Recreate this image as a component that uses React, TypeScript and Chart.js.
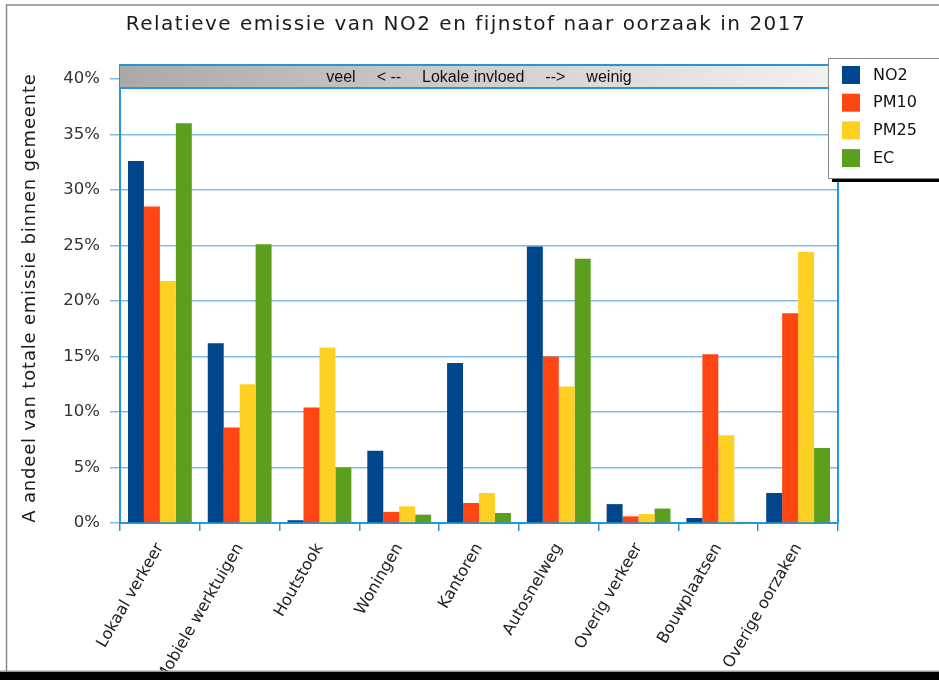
import { useEffect, useRef } from "react";
import { Chart, registerables } from "chart.js";

Chart.register(...registerables);

const chartTitle = "Relatieve emissie van NO2 en fijnstof naar oorzaak in 2017";
const yAxisTitle = "A andeel van totale emissie binnen gemeente";
const bannerParts = ["veel", "< --", "Lokale invloed", "-->", "weinig"];

const categories = [
  "Lokaal verkeer",
  "Mobiele werktuigen",
  "Houtstook",
  "Woningen",
  "Kantoren",
  "Autosnelweg",
  "Overig verkeer",
  "Bouwplaatsen",
  "Overige oorzaken",
];

const seriesNames = ["NO2", "PM10", "PM25", "EC"];
const no2Values = [32.6, 16.2, 0.25, 6.5, 14.4, 24.9, 1.7, 0.45, 2.7];
const pm10Values = [28.5, 8.6, 10.4, 1.0, 1.8, 15.0, 0.6, 15.2, 18.9];
const pm25Values = [21.8, 12.5, 15.8, 1.5, 2.7, 12.3, 0.8, 7.9, 24.4];
const ecValues = [36.0, 25.1, 5.0, 0.75, 0.9, 23.8, 1.3, 0.1, 6.75];
const seriesColors = ["#00468c", "#ff4512", "#ffd024", "#5c9e1e"];

const yTickValues = [0, 5, 10, 15, 20, 25, 30, 35, 40];
const yMax = 41.25;

const FONT = "'DejaVu Sans', Verdana, sans-serif";
const GRID = "#7cbde8";
const AXIS = "#2596d8";

export default function App() {
  const canvasRef = useRef<HTMLCanvasElement | null>(null);

  useEffect(() => {
    const canvas = canvasRef.current;
    if (!canvas) return;

    const decorPlugin = {
      id: "decor",
      beforeDraw(chart: any) {
        const ctx = chart.ctx;
        ctx.save();
        ctx.fillStyle = "#ffffff";
        ctx.fillRect(0, 0, chart.width, chart.height);
        ctx.restore();
      },
      afterDraw(chart: any) {
        const ctx = chart.ctx as any;
        const a = chart.chartArea;
        ctx.save();

        // plot frame (top & right)
        ctx.strokeStyle = AXIS;
        ctx.lineWidth = 2;
        ctx.beginPath();
        ctx.moveTo(a.left, a.top);
        ctx.lineTo(a.right, a.top);
        ctx.lineTo(a.right, a.bottom);
        ctx.stroke();

        // banner
        const bTop = a.top + 1;
        const bBottom = chart.scales.y.getPixelForValue(yMax) + 23;
        const grad = ctx.createLinearGradient(a.left, 0, a.right, 0);
        grad.addColorStop(0, "#a9a9a9");
        grad.addColorStop(0.5, "#cfcfcf");
        grad.addColorStop(1, "#f2f2f2");
        ctx.fillStyle = grad;
        ctx.fillRect(a.left, bTop, a.right - a.left, bBottom - bTop);
        ctx.strokeStyle = AXIS;
        ctx.lineWidth = 2;
        ctx.beginPath();
        ctx.moveTo(a.left, bBottom);
        ctx.lineTo(a.right, bBottom);
        ctx.stroke();

        ctx.font = "16px 'Liberation Sans', Arial, sans-serif";
        ctx.fillStyle = "#111";
        ctx.textBaseline = "middle";
        ctx.textAlign = "left";
        const gap = 21;
        const widths = bannerParts.map((p: string) => ctx.measureText(p).width);
        const total = widths.reduce((s: number, w: number) => s + w, 0) + gap * (bannerParts.length - 1);
        let x = (a.left + a.right) / 2 - total / 2;
        const by = (bTop + bBottom) / 2 + 1;
        bannerParts.forEach((p, i) => {
          ctx.fillText(p, x, by);
          x += widths[i] + gap;
        });

        // title
        ctx.font = "20px " + FONT;
        ctx.fillStyle = "#1a1a1a";
        ctx.textAlign = "center";
        ctx.letterSpacing = "1.5px";
        ctx.fillText(chartTitle, 466, 25);

        // y-axis title
        ctx.save();
        ctx.translate(30, 298);
        ctx.rotate(-Math.PI / 2);
        ctx.font = "18px " + FONT;
        ctx.letterSpacing = "0.8px";
        ctx.fillStyle = "#1a1a1a";
        ctx.textAlign = "center";
        ctx.textBaseline = "middle";
        ctx.fillText(yAxisTitle, 0, 0);
        ctx.restore();
        ctx.letterSpacing = "0px";

        // legend
        const lx = 828;
        const ly = 58;
        const lw = 140;
        const lh = 120;
        ctx.fillStyle = "#000";
        ctx.fillRect(lx + 4, ly + 4, lw, lh);
        ctx.fillStyle = "#fff";
        ctx.fillRect(lx, ly, lw, lh);
        ctx.strokeStyle = "#888";
        ctx.lineWidth = 1;
        ctx.strokeRect(lx + 0.5, ly + 0.5, lw, lh);
        ctx.font = "16px " + FONT;
        ctx.textAlign = "left";
        ctx.textBaseline = "middle";
        seriesNames.forEach((n, i) => {
          const sy = 66 + i * 27.7;
          ctx.fillStyle = seriesColors[i];
          ctx.fillRect(842, sy, 18, 18);
          ctx.fillStyle = "#111";
          ctx.fillText(n, 873, sy + 9.5);
        });

        // outer frame
        ctx.strokeStyle = "#8a8a8a";
        ctx.lineWidth = 1.5;
        ctx.beginPath();
        ctx.moveTo(6.5, 671);
        ctx.lineTo(6.5, 5);
        ctx.lineTo(chart.width, 5);
        ctx.stroke();
        ctx.fillStyle = "#000";
        ctx.fillRect(0, 672, chart.width, 8);
        ctx.fillStyle = "#999";
        ctx.fillRect(0, 670.5, chart.width, 1.5);

        ctx.restore();
      },
    };

    const valuesList = [no2Values, pm10Values, pm25Values, ecValues];

    const chart = new Chart(canvas, {
      type: "bar",
      data: {
        labels: categories,
        datasets: seriesNames.map((name, i) => ({
          label: name,
          data: valuesList[i],
          backgroundColor: seriesColors[i],
          borderWidth: 0,
          barPercentage: 1.0,
          categoryPercentage: 0.8,
        })),
      },
      options: {
        responsive: false,
        animation: false,
        layout: { padding: { left: 0, right: 101, top: 65, bottom: 0 } },
        plugins: {
          legend: { display: false },
          title: { display: false },
          tooltip: { enabled: false },
        },
        scales: {
          x: {
            afterFit: (s: any) => {
              s.height = 157;
            },
            grid: {
              display: true,
              drawOnChartArea: false,
              drawTicks: true,
              tickLength: 8,
              color: AXIS,
              lineWidth: 1.5,
              offset: true,
            },
            border: { display: true, color: AXIS, width: 2 },
            ticks: {
              autoSkip: false,
              maxRotation: 60,
              minRotation: 60,
              padding: 9,
              color: "#222",
              font: { family: FONT, size: 16 },
            },
          },
          y: {
            min: 0,
            max: yMax,
            afterFit: (s: any) => {
              s.width = 120;
            },
            afterBuildTicks: (s: any) => {
              s.ticks = yTickValues.map((v) => ({ value: v }));
            },
            grid: {
              color: GRID,
              lineWidth: 1.5,
              drawTicks: true,
              tickLength: 10,
              tickColor: GRID,
            },
            border: { display: true, color: AXIS, width: 2 },
            ticks: {
              padding: 10,
              color: "#333",
              font: { family: FONT, size: 16.5 },
              callback: (v: any) => v + "%",
            },
            title: { display: false },
          },
        },
      },
      plugins: [decorPlugin],
    });

    return () => chart.destroy();
  }, []);

  return (
    <div style={{ position: "absolute", left: 0, top: 0, width: 939, height: 680, overflow: "hidden" }}>
      <canvas ref={canvasRef} width={939} height={680} style={{ display: "block" }} />
    </div>
  );
}
